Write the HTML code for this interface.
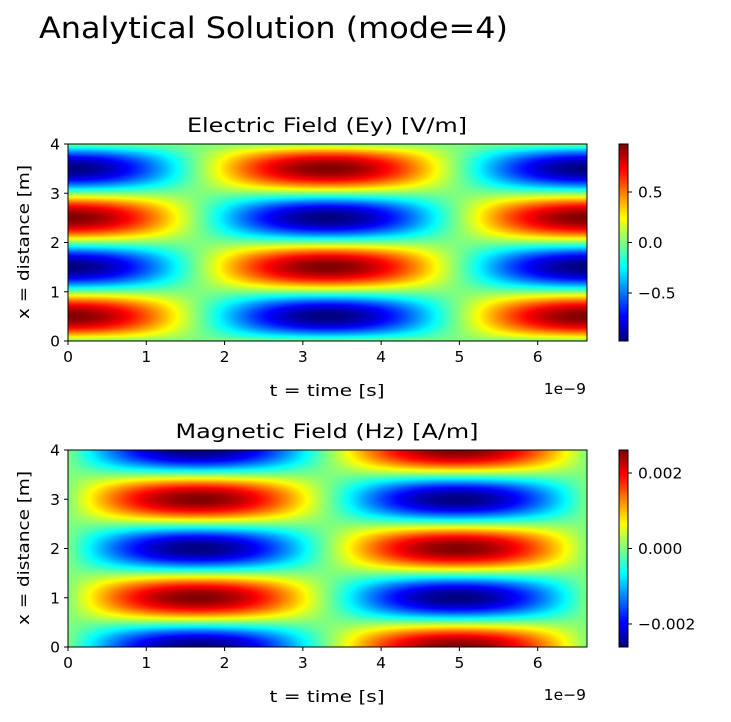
<!DOCTYPE html>
<html><head><meta charset="utf-8"><style>
body{margin:0;background:#fff;width:731px;height:722px;overflow:hidden;font-family:"DejaVu Sans","Liberation Sans",sans-serif}
#root{position:relative;width:731px;height:722px}
canvas{position:absolute}
svg{position:absolute;left:0;top:0;font-family:"DejaVu Sans","Liberation Sans",sans-serif}
</style></head><body>
<div id="root">
<canvas id="c1" width="519" height="197" style="left:68px;top:144px"></canvas>
<canvas id="c2" width="519" height="197" style="left:68px;top:450px"></canvas>
<canvas id="cb1" width="9" height="197" style="left:619px;top:144px"></canvas>
<canvas id="cb2" width="9" height="197" style="left:619px;top:450px"></canvas>
<svg id="s" width="731" height="722"></svg>
</div>
<script>
// data
const mode = [4];
const tRange = [0, 6.63];      // 1e-9 s
const xRange = [0, 4];         // m
const eAmp = [0.975];
const hAmp = [0.00261];
const xTicks = [0,1,2,3,4,5,6];
const yTicks = [0,1,2,3,4];
const eCbTicks = [-0.5,0.0,0.5];
const eCbLabels = ["\u22120.5","0.0","0.5"];
const hCbTicks = [-0.002,0,0.002];
const hCbLabels = ["\u22120.002","0.000","0.002"];

function jet(v){
  const r=Math.min(Math.max(Math.min(4*v-1.5,-4*v+4.5),0),1);
  const g=Math.min(Math.max(Math.min(4*v-0.5,-4*v+3.5),0),1);
  const b=Math.min(Math.max(Math.min(4*v+0.5,-4*v+2.5),0),1);
  return [r*255,g*255,b*255];
}
const L=xRange[1], T=tRange[1];
function Ey(t,x){return eAmp[0]*Math.sin(Math.PI*mode[0]*x/L)*Math.cos(2*Math.PI*t/T);}
function Hz(t,x){return -hAmp[0]*Math.cos(Math.PI*mode[0]*x/L)*Math.sin(2*Math.PI*t/T);}
function drawHeat(id,f,vmax){
  const c=document.getElementById(id),ctx=c.getContext('2d'),W=c.width,H=c.height;
  const img=ctx.createImageData(W,H);
  for(let j=0;j<H;j++){const x=xRange[1]-(j+0.5)/H*(xRange[1]-xRange[0]);
    for(let i=0;i<W;i++){const t=tRange[0]+(i+0.5)/W*(tRange[1]-tRange[0]);
      const v=(f(t,x)/vmax+1)/2;const col=jet(v);const k=(j*W+i)*4;
      img.data[k]=col[0];img.data[k+1]=col[1];img.data[k+2]=col[2];img.data[k+3]=255;}}
  ctx.putImageData(img,0,0);
}
function drawBar(id){
  const c=document.getElementById(id),ctx=c.getContext('2d');
  for(let j=0;j<c.height;j++){const col=jet(1-(j+0.5)/c.height);
    ctx.fillStyle=`rgb(${col[0]|0},${col[1]|0},${col[2]|0})`;ctx.fillRect(0,j,c.width,1);}
}
drawHeat('c1',Ey,eAmp[0]);drawHeat('c2',Hz,hAmp[0]);drawBar('cb1');drawBar('cb2');

const svg=document.getElementById('s');const NS='http://www.w3.org/2000/svg';
function el(tag,a,txt){const e=document.createElementNS(NS,tag);for(const k in a)e.setAttribute(k,a[k]);if(txt!==undefined)e.textContent=txt;svg.appendChild(e);return e;}
const AX={x0:68,x1:587};
function panel(top,title,titleLen,cbTicks,cbLabels,vmax,prefix){
  const bot=top+197;
  const sx=t=>AX.x0+(t-tRange[0])/(tRange[1]-tRange[0])*(AX.x1-AX.x0);
  const sy=x=>bot-(x-xRange[0])/(xRange[1]-xRange[0])*197;
  let e=el('rect',{x:AX.x0,y:top,width:AX.x1-AX.x0,height:197,fill:'none',stroke:'#000','stroke-width':1});
  
  xTicks.forEach(t=>{const X=sx(t);
    el('line',{x1:X,x2:X,y1:bot,y2:bot+4,stroke:'#000'});
    e=el('text',{x:X,y:bot+21,'font-size':15.5,'text-anchor':'middle'},String(t));
    });
  yTicks.forEach(v=>{const Y=sy(v);
    el('line',{x1:AX.x0-4,x2:AX.x0,y1:Y,y2:Y,stroke:'#000'});
    e=el('text',{x:AX.x0-8,y:Y+5.5,'font-size':15.5,'text-anchor':'end'},String(v));
    });
  e=el('text',{x:327,y:top-12,'font-size':19.5,'text-anchor':'middle',textLength:titleLen,lengthAdjust:'spacingAndGlyphs'},title);
  
  e=el('text',{x:327,y:bot+55,'font-size':16,'text-anchor':'middle',textLength:115,lengthAdjust:'spacingAndGlyphs'},'t = time [s]');
  
  e=el('text',{x:586,y:bot+53,'font-size':15.5,'text-anchor':'end'},'1e\u22129');
  
  e=el('text',{x:0,y:0,'font-size':16,'text-anchor':'middle',textLength:154,lengthAdjust:'spacingAndGlyphs',transform:`translate(29,${top+98}) rotate(-90)`},'x = distance [m]');
  
  el('rect',{x:619,y:top,width:9,height:197,fill:'none',stroke:'#000'});
  cbTicks.forEach((v,i)=>{const Y=top+98.5-v/vmax*98.5;
    el('line',{x1:628,x2:632,y1:Y,y2:Y,stroke:'#000'});
    e=el('text',{x:638,y:Y+5.5,'font-size':15.5},cbLabels[i]);
    });
}
panel(144,'Electric Field (Ey) [V/m]',280,eCbTicks,eCbLabels,eAmp[0],'ey');
panel(450,'Magnetic Field (Hz) [A/m]',303,hCbTicks,hCbLabels,hAmp[0],'hz');
let st=el('text',{x:39,y:38,'font-size':29,textLength:469,lengthAdjust:'spacingAndGlyphs'},'Analytical Solution (mode=4)');

</script>
</body></html>
